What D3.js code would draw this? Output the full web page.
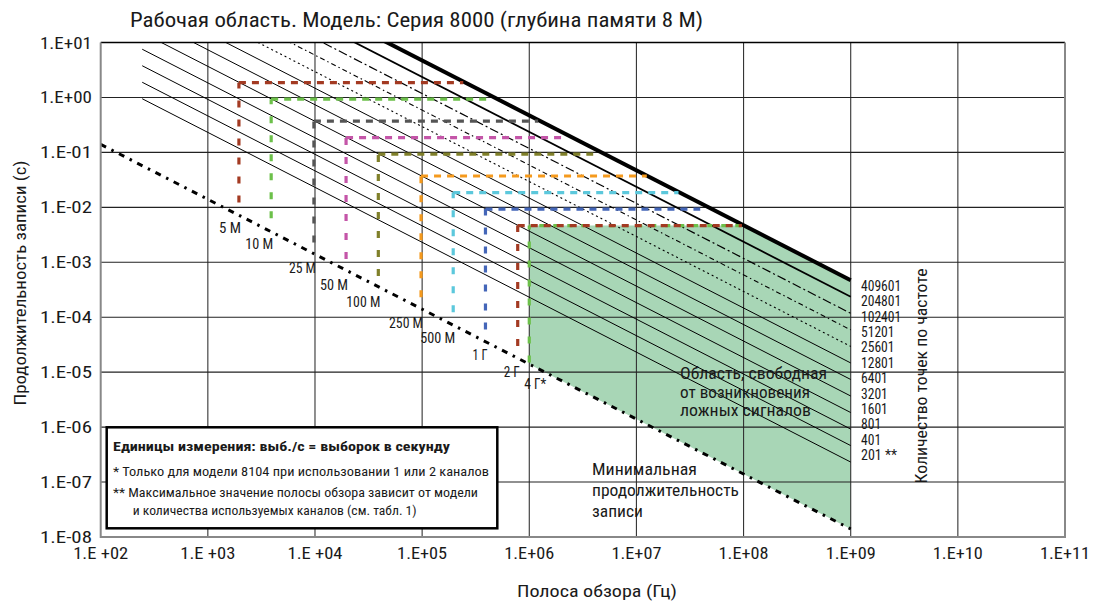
<!DOCTYPE html>
<html><head><meta charset="utf-8">
<script src="https://cdn.jsdelivr.net/npm/d3@7"></script>
<style>
html,body{margin:0;padding:0;background:#fff;}
svg text{font-family:'Liberation Sans Narrow','Arial Narrow','Roboto Condensed','DejaVu Sans Condensed',Roboto,sans-serif;fill:#1a1a1a;}
</style></head><body><svg id="chart" width="1106" height="603"></svg>
<script>
// Axis ticks
const spanTicks = [1e2, 1e3, 1e4, 1e5, 1e6, 1e7, 1e8, 1e9, 1e10, 1e11];
const spanTickLabels = ["1.E +02", "1.E +03", "1.E +04", "1.E+05", "1.E+06", "1.E+07", "1.E+08", "1.E+09", "1.E+10", "1.E+11"];
const timeTicks = [1e1, 1e0, 1e-1, 1e-2, 1e-3, 1e-4, 1e-5, 1e-6, 1e-7, 1e-8];
const timeTickLabels = ["1.E+01", "1.E+00", "1.E-01", "1.E-02", "1.E-03", "1.E-04", "1.E-05", "1.E-06", "1.E-07", "1.E-08"];

// Frequency points lines: record length = points * factor / span
const pointCounts = [201, 401, 801, 1601, 3201, 6401, 12801, 25601, 51201, 102401, 204801, 409601];
const pointLabels = ["201 **", "401", "801", "1601", "3201", "6401", "12801", "25601", "51201", "102401", "204801", "409601"];
const recordFactor = 1.15;
const lineStartSpan = 244;
const lineEndSpan = 1e9;

// Sample-rate boxes
const rateLabels = ["5 M", "10 M", "25 M", "50 M", "100 M", "250 M", "500 M", "1 Г", "2 Г", "4 Г*"];
const rateSpan = [1950, 3900, 9770, 19500, 39000, 97700, 195000, 390000, 780000, 1.0e6];
const rateMinTime = [0.0123, 0.0063, 0.0023, 0.00115, 5.6e-4, 2.3e-4, 1.23e-4, 6.0e-5, 3.0e-5, 1.5e-5];
const rateMaxTime = [1.86, 0.93, 0.372, 0.186, 0.093, 0.0372, 0.0186, 0.0093, 0.00465, 0.00465];
const rateMaxSpan = [2.42e5, 4.48e5, 1.21e6, 2.01e6, 3.95e6, 1.25e7, 2.47e7, 3.94e7, 9.66e7, 1.04e8];

// Minimum record length line
const minDurSpan = [1e2, 1e9];
const minDurTime = [0.14, 1.4e-8];

const rateColors = ["#a33a22", "#6cc04a", "#555555", "#c455a8", "#80802a", "#f59a1d", "#5cc8dc", "#4466b8", "#a33a22", "#6cc04a"];

const svg = d3.select("#chart");
const x = d3.scaleLog().domain([1e2, 1e11]).range([100.7, 1065]);
const y = d3.scaleLog().domain([1e-8, 1e1]).range([537, 42.5]);
const [x0, x1] = x.range();
const [y1, y0] = y.range();

svg.append("defs").append("clipPath").attr("id", "plotClip")
  .append("rect").attr("x", x0).attr("y", y0).attr("width", x1 - x0).attr("height", y1 - y0);

// Alias-free region (green fill)
const topT = rateMaxTime[9];
const thickN = pointCounts[pointCounts.length - 1];
const cornerSpan = thickN * recordFactor / topT;
const minLineY = s => {
  const xa = x(minDurSpan[0]), xb = x(minDurSpan[1]);
  const ya = y(minDurTime[0]), yb = y(minDurTime[1]);
  return ya + (yb - ya) * (x(s) - xa) / (xb - xa);
};
const fillPts = [
  [x(rateSpan[9]), y(topT)],
  [x(cornerSpan), y(topT)],
  [x(lineEndSpan), y(thickN * recordFactor / lineEndSpan)],
  [x(lineEndSpan), minLineY(lineEndSpan)],
  [x(rateSpan[9]), minLineY(rateSpan[9])]
];
svg.append("path").attr("d", d3.line()(fillPts) + "Z").attr("fill", "#a8d6b6");

// Grid
const grid = svg.append("g");
grid.selectAll("line.v").data(spanTicks.slice(1, -1)).join("line")
  .attr("x1", d => x(d)).attr("x2", d => x(d)).attr("y1", y0).attr("y2", y1)
  .attr("stroke", "#333").attr("stroke-width", 1.1);
grid.selectAll("line.h").data(timeTicks.slice(1, -1)).join("line")
  .attr("x1", x0).attr("x2", x1).attr("y1", d => y(d)).attr("y2", d => y(d))
  .attr("stroke", "#222").attr("stroke-width", 1.1);

// Frequency points lines
const lineStyles = [
  {w: 1, dash: null}, {w: 1, dash: null}, {w: 1, dash: null}, {w: 1, dash: null},
  {w: 1, dash: null}, {w: 1, dash: null}, {w: 1, dash: null},
  {w: 1.1, dash: "2,3"}, {w: 1.1, dash: "5,3,1.5,3"}, {w: 1.2, dash: "9,3,2,3"},
  {w: 1.8, dash: null}, {w: 4, dash: null}
];
const plotG = svg.append("g").attr("clip-path", "url(#plotClip)");
plotG.selectAll("line.pts").data(pointCounts).join("line")
  .attr("x1", x(lineStartSpan)).attr("y1", d => y(d * recordFactor / lineStartSpan))
  .attr("x2", x(lineEndSpan)).attr("y2", d => y(d * recordFactor / lineEndSpan))
  .attr("stroke", "#000")
  .attr("stroke-width", (d, i) => lineStyles[i].w)
  .attr("stroke-dasharray", (d, i) => lineStyles[i].dash);

// Sample-rate boxes (drawn with 4 G under 2 G)
const order = [0, 1, 2, 3, 4, 5, 6, 7, 9, 8];
order.forEach(i => {
  const g = plotG.append("g").attr("stroke", rateColors[i]).attr("stroke-width", 3.2).attr("fill", "none");
  g.append("line")
    .attr("x1", x(rateSpan[i])).attr("x2", x(rateSpan[i]))
    .attr("y1", y(rateMinTime[i])).attr("y2", y(rateMaxTime[i]))
    .attr("stroke-dasharray", "7,12");
  g.append("line")
    .attr("x1", x(rateSpan[i])).attr("x2", x(rateMaxSpan[i]))
    .attr("y1", y(rateMaxTime[i])).attr("y2", y(rateMaxTime[i]))
    .attr("stroke-dasharray", i === 9 ? "5,9" : "7,6")
    .attr("stroke-dashoffset", i === 9 ? 4 : 0);
});

// Minimum record length line
plotG.append("line")
  .attr("x1", x(minDurSpan[0])).attr("y1", y(minDurTime[0]))
  .attr("x2", x(minDurSpan[1])).attr("y2", y(minDurTime[1]))
  .attr("stroke", "#000").attr("stroke-width", 3)
  .attr("stroke-dasharray", "6,6,2.5,6");

// Sample-rate labels
const rateLabelW = [22, 28, 27, 28, 34, 34, 35, 15, 16, 22];
svg.selectAll("text.rate").data(rateLabels).join("text")
  .attr("x", (d, i) => x(rateSpan[i]) + (i === 9 ? 17 : 2))
  .attr("y", (d, i) => y(rateMinTime[i]) + (i === 9 ? 27 : 31))
  .attr("text-anchor", "end").attr("font-size", 14)
  .attr("textLength", (d, i) => rateLabelW[i]).attr("lengthAdjust", "spacingAndGlyphs")
  .text(d => d);

// Borders
svg.append("line").attr("x1", x0).attr("x2", x1).attr("y1", y0).attr("y2", y0).attr("stroke", "#000").attr("stroke-width", 1.3);
svg.append("path").attr("d", `M${x0},${y0}V${y1}H${x1}V${y0}`).attr("fill", "none").attr("stroke", "#888").attr("stroke-width", 2);

// Axis tick labels
svg.selectAll("text.xt").data(spanTicks).join("text")
  .attr("x", d => x(d)).attr("y", 559).attr("text-anchor", "middle").attr("font-size", 16.5)
  .attr("textLength", (d, i) => spanTickLabels[i].includes(" ") ? 55 : 50).attr("lengthAdjust", "spacingAndGlyphs")
  .text((d, i) => spanTickLabels[i]);
svg.selectAll("text.yt").data(timeTicks).join("text")
  .attr("x", 92).attr("y", d => y(d) + 6).attr("text-anchor", "end").attr("font-size", 16.5)
  .attr("textLength", 52).attr("lengthAdjust", "spacingAndGlyphs")
  .text((d, i) => timeTickLabels[i]);

// Titles
svg.append("text").attr("x", 130).attr("y", 27).attr("font-size", 21)
  .attr("textLength", 573).attr("lengthAdjust", "spacingAndGlyphs")
  .text("Рабочая область. Модель: Серия 8000 (глубина памяти 8 М)");
svg.append("text").attr("x", 597).attr("y", 597).attr("text-anchor", "middle").attr("font-size", 17)
  .attr("textLength", 160).attr("lengthAdjust", "spacingAndGlyphs")
  .text("Полоса обзора (Гц)");
svg.append("text").attr("transform", "translate(26,283) rotate(-90)").attr("text-anchor", "middle").attr("font-size", 17)
  .attr("textLength", 245).attr("lengthAdjust", "spacingAndGlyphs")
  .text("Продолжительность записи (с)");
svg.append("text").attr("transform", "translate(927,376) rotate(-90)").attr("text-anchor", "middle").attr("font-size", 16)
  .attr("textLength", 215).attr("lengthAdjust", "spacingAndGlyphs")
  .text("Количество точек по частоте");

// Point count labels
svg.selectAll("text.pl").data(pointLabels).join("text")
  .attr("x", 861).attr("y", (d, i) => 460 - i * 15.36)
  .attr("font-size", 14)
  .attr("textLength", d => d.replace(/[ *]/g, "").length * 6.7 + (d.includes("*") ? 16 : 0))
  .attr("lengthAdjust", "spacingAndGlyphs")
  .text(d => d);

// Region annotations
const regionText = ["Область, свободная", "от возникновения", "ложных сигналов"];
const regionW = [147, 130, 131];
svg.selectAll("text.rg").data(regionText).join("text")
  .attr("x", 680).attr("y", (d, i) => 379 + i * 18.5).attr("font-size", 17)
  .attr("textLength", (d, i) => regionW[i]).attr("lengthAdjust", "spacingAndGlyphs")
  .attr("fill", "#333").text(d => d);
const minText = ["Минимальная", "продолжительность", "записи"];
const minW = [105, 147, 51];
svg.selectAll("text.mn").data(minText).join("text")
  .attr("x", 592).attr("y", (d, i) => 475 + i * 21).attr("font-size", 17)
  .attr("textLength", (d, i) => minW[i]).attr("lengthAdjust", "spacingAndGlyphs")
  .text(d => d);

// Notes box
const box = svg.append("g");
box.append("rect").attr("x", 106.7).attr("y", 427.3).attr("width", 390.6).attr("height", 101)
  .attr("fill", "#fff").attr("stroke", "#000").attr("stroke-width", 2.5);
const notes = [
  {t: "Единицы измерения: выб./с = выборок в секунду", x: 113, y: 451, w: 337, bold: true},
  {t: "* Только для модели 8104 при использовании 1 или 2 каналов", x: 113, y: 476, w: 376},
  {t: "** Максимальное значение полосы обзора зависит от модели", x: 113, y: 497, w: 365},
  {t: "и количества используемых каналов (см. табл. 1)", x: 132.7, y: 515, w: 284}
];
box.selectAll("text").data(notes).join("text")
  .attr("x", d => d.x).attr("y", d => d.y).attr("font-size", 13)
  .attr("font-weight", d => d.bold ? "bold" : null)
  .attr("textLength", d => d.w).attr("lengthAdjust", "spacingAndGlyphs")
  .text(d => d.t);
</script></body></html>
